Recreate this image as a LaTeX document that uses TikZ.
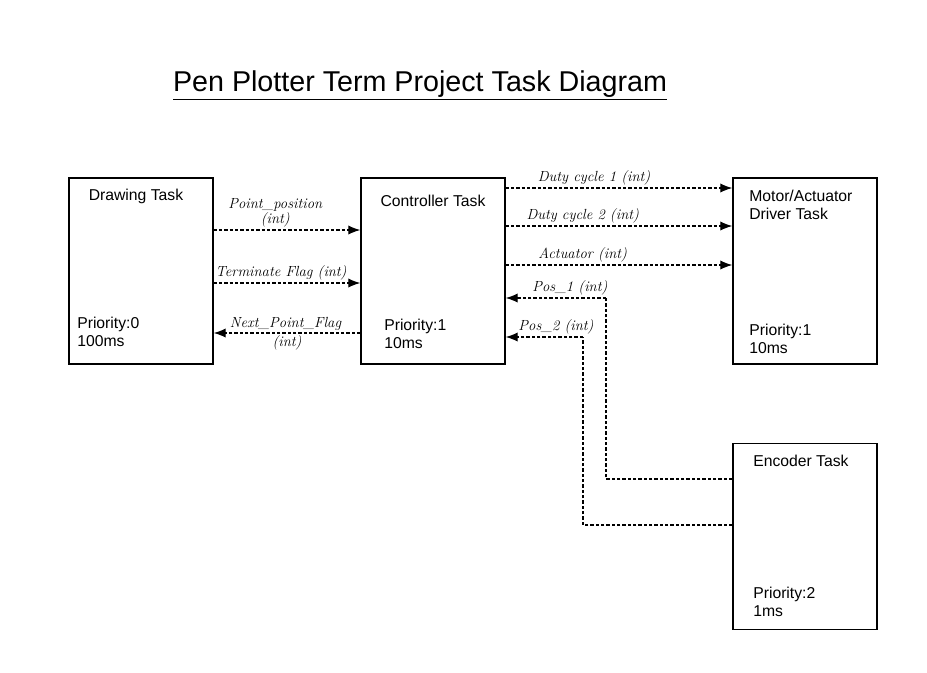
\documentclass[tikz,border=0pt]{standalone}
\usepackage{fontspec}
\setsansfont{Liberation Sans}
\usetikzlibrary{arrows.meta}
\tikzset{
  taskbox/.style = {draw, line width=1.1pt, minimum width=108pt, minimum height=139.5pt, inner sep=0pt},
  tasktext/.style = {font=\sffamily\fontsize{11.8}{13.6}\selectfont, align=left, inner sep=0pt},
  flow/.style = {dash pattern=on 2.4pt off 1.6pt, line width=0.9pt, -{Latex[length=9pt,width=7pt]}},
  wire/.style = {dash pattern=on 2.4pt off 1.6pt, line width=0.9pt},
  hand/.style = {font=\itshape\fontsize{11}{11}\selectfont, inner sep=1.5pt, align=center}
}

\begin{document}
\begin{tikzpicture}[x=0.75pt,y=-0.75pt]
    \useasboundingbox (0,0) rectangle (927,672);
    % title
    \node[font=\sffamily\fontsize{21.5}{25}\selectfont] (title) at (420,85) {\underline{Pen Plotter Term Project Task Diagram}};
    % tasks
    \node[taskbox] (drawing) at (141,271) {};
    \node[taskbox] (ctrl) at (433,271) {};
    \node[taskbox] (motor) at (805,271) {};
    \node[taskbox] (enc) at (805,536.5) {};
    \node[tasktext] (drawingname) at (136,196) {Drawing Task};
    \node[tasktext,anchor=west] (drawingprio) at (77,332) {Priority:0\\100ms};
    \node[tasktext] (ctrlname) at (433,201) {Controller Task};
    \node[tasktext,anchor=west] (ctrlprio) at (384,334) {Priority:1\\10ms};
    \node[tasktext,anchor=west] (motorname) at (749,205) {Motor/Actuator\\Driver Task};
    \node[tasktext,anchor=west] (motorprio) at (749,339) {Priority:1\\10ms};
    \node[tasktext,anchor=west] (encname) at (753,461) {Encoder Task};
    \node[tasktext,anchor=west] (encprio) at (753,602) {Priority:2\\1ms};
    % drawing <-> controller
    \draw[flow] (drawing.east |- 0,230) -- node[hand,above,pos=0.42,font=\itshape\fontsize{11}{9}\selectfont]{Point\_position\\(int)} (ctrl.west |- 0,230);
    \draw[flow] (drawing.east |- 0,283) -- node[hand,above,pos=0.46]{Terminate Flag (int)} (ctrl.west |- 0,283);
    \draw[flow] (ctrl.west |- 0,333) -- node[hand,above,pos=0.51]{Next\_Point\_Flag}
      node[hand,below,pos=0.5]{(int)} (drawing.east |- 0,333);
    % controller -> motor
    \draw[flow] (ctrl.east |- 0,188) -- node[hand,above,pos=0.39]{Duty cycle 1 (int)} (motor.west |- 0,188);
    \draw[flow] (ctrl.east |- 0,226) -- node[hand,above,pos=0.34]{Duty cycle 2 (int)} (motor.west |- 0,226);
    \draw[flow] (ctrl.east |- 0,265) -- node[hand,above,pos=0.34]{Actuator (int)} (motor.west |- 0,265);
    % encoder -> controller
    \coordinate (pos1bend) at (606,298);
    \coordinate (pos2bend) at (583,337);
    \draw[wire] (enc.west |- 0,479) -| (pos1bend);
    \draw[flow] (pos1bend) -- node[hand,above,pos=0.36]{Pos\_1 (int)} (ctrl.east |- pos1bend);
    \draw[wire] (enc.west |- 0,525) -| (pos2bend);
    \draw[flow] (pos2bend) -- node[hand,above,pos=0.35]{Pos\_2 (int)} (ctrl.east |- pos2bend);
\end{tikzpicture}
\end{document}
